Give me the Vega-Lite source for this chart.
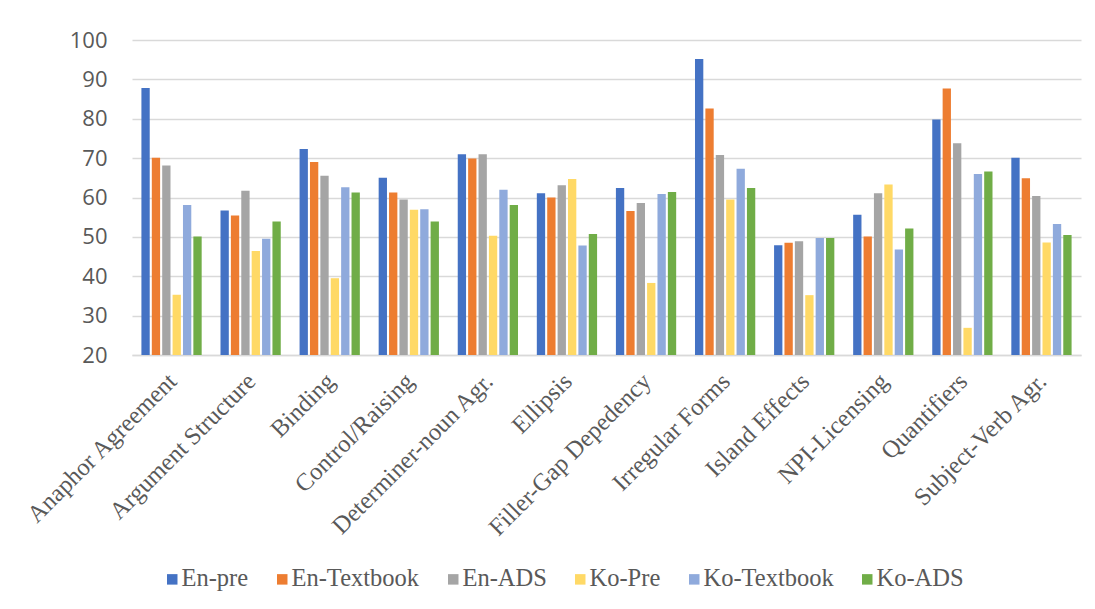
{
  "$schema": "https://vega.github.io/schema/vega-lite/v6.json",
  "width": 949,
  "height": 315,
  "autosize": {"type": "none"},
  "padding": {"left": 132, "top": 40, "right": 14, "bottom": 254},
  "background": "white",
  "config": {
    "view": {"stroke": null},
    "axis": {"labelColor": "#595959", "titleColor": "#595959"}
  },
  "data": {
    "values": [
      {"category": "Anaphor Agreement", "series": "En-pre", "value": 87.8},
      {"category": "Anaphor Agreement", "series": "En-Textbook", "value": 70.1},
      {"category": "Anaphor Agreement", "series": "En-ADS", "value": 68.1},
      {"category": "Anaphor Agreement", "series": "Ko-Pre", "value": 35.3},
      {"category": "Anaphor Agreement", "series": "Ko-Textbook", "value": 58.1},
      {"category": "Anaphor Agreement", "series": "Ko-ADS", "value": 50.1},

      {"category": "Argument Structure", "series": "En-pre", "value": 56.7},
      {"category": "Argument Structure", "series": "En-Textbook", "value": 55.4},
      {"category": "Argument Structure", "series": "En-ADS", "value": 61.7},
      {"category": "Argument Structure", "series": "Ko-Pre", "value": 46.4},
      {"category": "Argument Structure", "series": "Ko-Textbook", "value": 49.5},
      {"category": "Argument Structure", "series": "Ko-ADS", "value": 53.9},

      {"category": "Binding", "series": "En-pre", "value": 72.3},
      {"category": "Binding", "series": "En-Textbook", "value": 69.0},
      {"category": "Binding", "series": "En-ADS", "value": 65.5},
      {"category": "Binding", "series": "Ko-Pre", "value": 39.5},
      {"category": "Binding", "series": "Ko-Textbook", "value": 62.6},
      {"category": "Binding", "series": "Ko-ADS", "value": 61.3},

      {"category": "Control/Raising", "series": "En-pre", "value": 65.0},
      {"category": "Control/Raising", "series": "En-Textbook", "value": 61.3},
      {"category": "Control/Raising", "series": "En-ADS", "value": 59.5},
      {"category": "Control/Raising", "series": "Ko-Pre", "value": 56.9},
      {"category": "Control/Raising", "series": "Ko-Textbook", "value": 57.0},
      {"category": "Control/Raising", "series": "Ko-ADS", "value": 53.9},

      {"category": "Determiner-noun Agr.", "series": "En-pre", "value": 71.0},
      {"category": "Determiner-noun Agr.", "series": "En-Textbook", "value": 69.9},
      {"category": "Determiner-noun Agr.", "series": "En-ADS", "value": 71.0},
      {"category": "Determiner-noun Agr.", "series": "Ko-Pre", "value": 50.3},
      {"category": "Determiner-noun Agr.", "series": "Ko-Textbook", "value": 62.0},
      {"category": "Determiner-noun Agr.", "series": "Ko-ADS", "value": 58.1},

      {"category": "Ellipsis", "series": "En-pre", "value": 61.1},
      {"category": "Ellipsis", "series": "En-Textbook", "value": 60.0},
      {"category": "Ellipsis", "series": "En-ADS", "value": 63.1},
      {"category": "Ellipsis", "series": "Ko-Pre", "value": 64.7},
      {"category": "Ellipsis", "series": "Ko-Textbook", "value": 47.8},
      {"category": "Ellipsis", "series": "Ko-ADS", "value": 50.7},

      {"category": "Filler-Gap Depedency", "series": "En-pre", "value": 62.4},
      {"category": "Filler-Gap Depedency", "series": "En-Textbook", "value": 56.6},
      {"category": "Filler-Gap Depedency", "series": "En-ADS", "value": 58.6},
      {"category": "Filler-Gap Depedency", "series": "Ko-Pre", "value": 38.3},
      {"category": "Filler-Gap Depedency", "series": "Ko-Textbook", "value": 60.9},
      {"category": "Filler-Gap Depedency", "series": "Ko-ADS", "value": 61.4},

      {"category": "Irregular Forms", "series": "En-pre", "value": 95.2},
      {"category": "Irregular Forms", "series": "En-Textbook", "value": 82.6},
      {"category": "Irregular Forms", "series": "En-ADS", "value": 70.8},
      {"category": "Irregular Forms", "series": "Ko-Pre", "value": 59.5},
      {"category": "Irregular Forms", "series": "Ko-Textbook", "value": 67.3},
      {"category": "Irregular Forms", "series": "Ko-ADS", "value": 62.4},

      {"category": "Island Effects", "series": "En-pre", "value": 47.9},
      {"category": "Island Effects", "series": "En-Textbook", "value": 48.5},
      {"category": "Island Effects", "series": "En-ADS", "value": 48.9},
      {"category": "Island Effects", "series": "Ko-Pre", "value": 35.2},
      {"category": "Island Effects", "series": "Ko-Textbook", "value": 49.7},
      {"category": "Island Effects", "series": "Ko-ADS", "value": 49.7},

      {"category": "NPI-Licensing", "series": "En-pre", "value": 55.6},
      {"category": "NPI-Licensing", "series": "En-Textbook", "value": 50.1},
      {"category": "NPI-Licensing", "series": "En-ADS", "value": 61.1},
      {"category": "NPI-Licensing", "series": "Ko-Pre", "value": 63.3},
      {"category": "NPI-Licensing", "series": "Ko-Textbook", "value": 46.8},
      {"category": "NPI-Licensing", "series": "Ko-ADS", "value": 52.1},

      {"category": "Quantifiers", "series": "En-pre", "value": 79.8},
      {"category": "Quantifiers", "series": "En-Textbook", "value": 87.7},
      {"category": "Quantifiers", "series": "En-ADS", "value": 73.8},
      {"category": "Quantifiers", "series": "Ko-Pre", "value": 26.9},
      {"category": "Quantifiers", "series": "Ko-Textbook", "value": 66.0},
      {"category": "Quantifiers", "series": "Ko-ADS", "value": 66.6},

      {"category": "Subject-Verb Agr.", "series": "En-pre", "value": 70.1},
      {"category": "Subject-Verb Agr.", "series": "En-Textbook", "value": 64.9},
      {"category": "Subject-Verb Agr.", "series": "En-ADS", "value": 60.4},
      {"category": "Subject-Verb Agr.", "series": "Ko-Pre", "value": 48.6},
      {"category": "Subject-Verb Agr.", "series": "Ko-Textbook", "value": 53.3},
      {"category": "Subject-Verb Agr.", "series": "Ko-ADS", "value": 50.5}
    ]
  },
  "mark": {"type": "bar"},
  "encoding": {
    "x": {
      "field": "category",
      "type": "nominal",
      "sort": null,
      "scale": {"paddingInner": 0.238, "paddingOuter": 0.119},
      "axis": {
        "title": null,
        "labelAngle": -45,
        "labelAlign": "right",
        "labelBaseline": "top",
        "labelFont": "Liberation Serif",
        "labelFontSize": 24.5,
        "labelColor": "#595959",
        "labelPadding": 14,
        "labelOffset": -7,
        "labelLimit": 400,
        "ticks": false,
        "domainColor": "#d9d9d9",
        "domainWidth": 1.5
      }
    },
    "xOffset": {
      "field": "series",
      "type": "nominal",
      "sort": ["En-pre", "En-Textbook", "En-ADS", "Ko-Pre", "Ko-Textbook", "Ko-ADS"],
      "scale": {"paddingInner": 0.2, "paddingOuter": 0}
    },
    "y": {
      "field": "value",
      "type": "quantitative",
      "scale": {"domain": [20, 100], "zero": false, "nice": false},
      "axis": {
        "title": null,
        "values": [20, 30, 40, 50, 60, 70, 80, 90, 100],
        "labelFont": "Open Sans",
        "labelFontSize": 22,
        "labelColor": "#595959",
        "labelPadding": 25,
        "ticks": false,
        "domain": false,
        "grid": true,
        "gridColor": "#d9d9d9",
        "gridWidth": 1.4
      }
    },
    "y2": {"datum": 20},
    "color": {
      "field": "series",
      "type": "nominal",
      "sort": ["En-pre", "En-Textbook", "En-ADS", "Ko-Pre", "Ko-Textbook", "Ko-ADS"],
      "scale": {
        "domain": ["En-pre", "En-Textbook", "En-ADS", "Ko-Pre", "Ko-Textbook", "Ko-ADS"],
        "range": ["#4472C4", "#ED7D31", "#A5A5A5", "#FFD966", "#8FAADC", "#70AD47"]
      },
      "legend": {
        "title": null,
        "orient": "none",
        "legendX": 28,
        "legendY": 527,
        "direction": "horizontal",
        "columns": 6,
        "symbolType": "square",
        "symbolSize": 110,
        "symbolStrokeWidth": 0,
        "labelFont": "Liberation Serif",
        "labelFontSize": 24.5,
        "labelColor": "#595959",
        "labelOffset": -3,
        "columnPadding": 21,
        "labelLimit": 300
      }
    }
  }
}
